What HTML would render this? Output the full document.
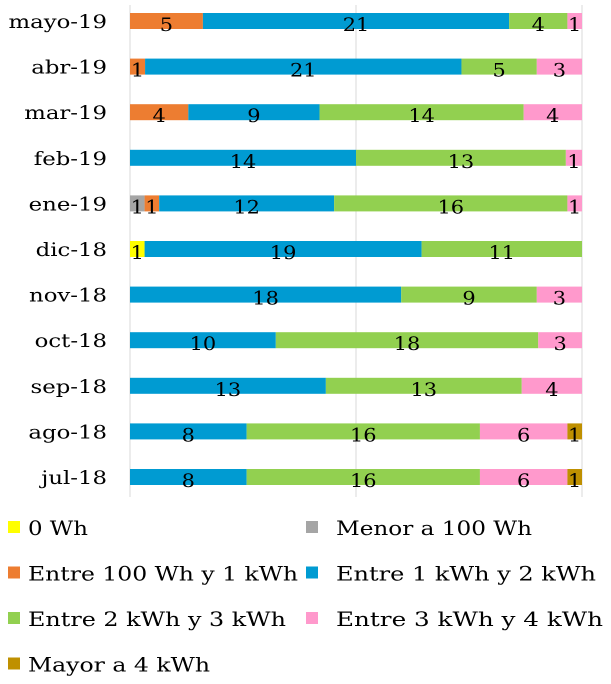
<!DOCTYPE html>
<html><head><meta charset="utf-8"><style>
body{margin:0;background:#fff;}
svg text{font-family:"DejaVu Serif","Liberation Serif",serif;}
</style></head><body>
<svg width="611" height="679">
<g id="grid"></g><g id="bars"></g><g id="ylab"></g><g id="legend"></g>
</svg>
<script>
const categories=["mayo-19","abr-19","mar-19","feb-19","ene-19","dic-18","nov-18","oct-18","sep-18","ago-18","jul-18"];
const seriesNames=["0 Wh","Menor a 100 Wh","Entre 100 Wh y 1 kWh","Entre 1 kWh y 2 kWh","Entre 2 kWh y 3 kWh","Entre 3 kWh  y 4 kWh","Mayor a 4 kWh"];
const s0=[0,0,0,0,0,1,0,0,0,0,0];
const s1=[0,0,0,0,1,0,0,0,0,0,0];
const s2=[5,1,4,0,1,0,0,0,0,0,0];
const s3=[21,21,9,14,12,19,18,10,13,8,8];
const s4=[4,5,14,13,16,11,9,18,13,16,16];
const s5=[1,3,4,1,1,0,3,3,4,6,6];
const s6=[0,0,0,0,0,0,0,0,0,1,1];
const series=[s0,s1,s2,s3,s4,s5,s6];
const colors=["#FFFF00","#A5A5A5","#ED7D31","#009BD2","#92D050","#FF99CC","#BF9000"];
const legendW=[60,196,270,260,258,267,182];
const NS="http://www.w3.org/2000/svg";
const X0=130,X1=582,Y0=21,STEP=45.6,BH=16;
const xs=f=>X0+f*(X1-X0);
const ys=i=>Y0+i*STEP;
function mk(t,a,p){const e=document.createElementNS(NS,t);for(const k in a)e.setAttribute(k,a[k]);p.appendChild(e);return e;}
const grid=document.getElementById('grid');
[0,0.5,1].forEach(f=>{const l=mk('line',{x1:xs(f),x2:xs(f),y1:5,y2:497,stroke:'#D9D9D9','stroke-width':1},grid);

});
const bars=document.getElementById('bars'),ylab=document.getElementById('ylab');
categories.forEach((c,i)=>{
 let tot=0;series.forEach(s=>tot+=s[i]);
 let acc=0;
 const t=mk('text',{x:0,y:0,'text-anchor':'end','font-size':19,fill:'#000',transform:`translate(107,${ys(i)+7}) scale(1.2,1)`},ylab);t.textContent=c;
 
 
 series.forEach((s,k)=>{
  const v=s[i];if(!v)return;
  const a=xs(acc/tot),b=xs((acc+v)/tot);acc+=v;
  const r=mk('rect',{x:a,y:ys(i)-BH/2,width:b-a,height:BH,fill:colors[k]},bars);
  
  
  const tx=mk('text',{x:0,y:0,'text-anchor':'middle','font-size':19,fill:'#000',transform:`translate(${(a+b)/2},${ys(i)+10}) scale(1.1,1)`},bars);tx.textContent=v;
  
  
 });
});
const lg=document.getElementById('legend');
seriesNames.forEach((n,k)=>{
 const col=k%2,row=Math.floor(k/2);
 const x=col?306:8,y=528+row*45.5;
 const r=mk('rect',{x:x,y:y-7,width:12,height:12,fill:colors[k]},lg);
 
 
 const t=mk('text',{x:x+20+(col?10:0),y:y+7,'font-size':20,fill:'#000',textLength:legendW[k],lengthAdjust:'spacingAndGlyphs'},lg);t.textContent=n;
 
 
});
</script>
</body></html>
